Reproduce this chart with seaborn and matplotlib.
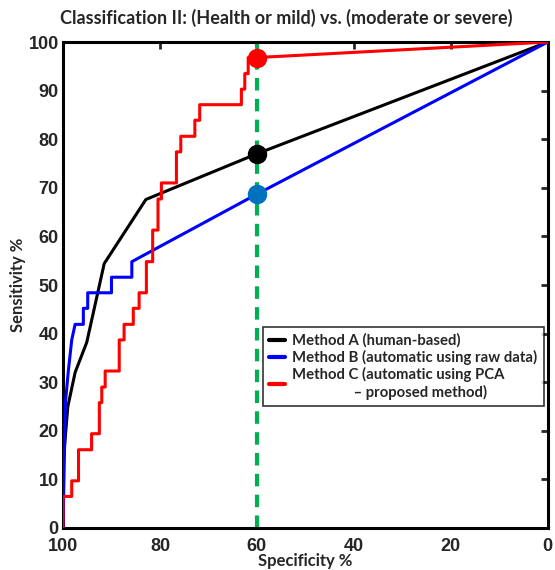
import numpy as np
import pandas as pd
import matplotlib
matplotlib.use("Agg")
import matplotlib.pyplot as plt
import seaborn as sns

# ---------------- data (specificity %, sensitivity %) ----------------
black_spec = [100, 100, 99.5, 99.0, 97.5, 95.1, 91.5, 82.9, 60, 0]
black_sens = [0, 13, 19, 25, 32, 38.2, 54.4, 67.6, 77.0, 100]

blue_spec = [100, 99.5, 98.9, 98.2, 97.5, 95.8, 95.8, 94.9, 94.9, 90.0, 90.0,
             85.8, 85.8, 60, 0]
blue_sens = [0, 25.8, 32.3, 38.7, 41.9, 41.9, 45.2, 45.2, 48.4, 48.4, 51.6,
             51.6, 54.8, 68.7, 100]

# red staircase: spec where each horizontal run ends, sensitivity level of the run
red_step_spec = [98.2, 96.8, 94.1, 92.5, 92.0, 91.3, 88.4, 87.4, 85.5, 84.3,
                 82.8, 81.5, 80.4, 79.7, 76.6, 75.7, 72.8, 71.8, 63.2, 62.5,
                 61.8, 60.0]
red_step_sens = [6.5, 9.7, 16.1, 19.4, 25.8, 29.0, 32.3, 38.7, 41.9, 45.2,
                 48.4, 54.8, 61.3, 67.7, 71.0, 77.4, 80.6, 83.9, 87.1, 90.3,
                 93.5, 96.8]

# operating points at specificity 60 %
op_spec = [60, 60, 60]
op_sens = [96.8, 77.0, 68.7]
op_colors = ["#ff0000", "#000000", "#0072bd"]

labels = ["Method A (human-based)",
          "Method B (automatic using raw data)",
          "Method C (automatic using PCA\n                 \u2013 proposed method)"]

# expand the red staircase into corners, then straight line to (0, 100)
red_x, red_y = [100], [0]
for s, v in zip(red_step_spec, red_step_sens):
    red_x += [red_x[-1], s]
    red_y += [v, v]
red_x.append(0)
red_y.append(100)

df_a = pd.DataFrame({"spec": black_spec, "sens": black_sens})
df_b = pd.DataFrame({"spec": blue_spec, "sens": blue_sens})
df_c = pd.DataFrame({"spec": red_x, "sens": red_y})

# ---------------- plot ----------------
sns.set_style("white")
plt.rcParams["font.family"] = ["Lato", "DejaVu Sans"]
plt.rcParams["font.weight"] = "bold"

fig = plt.figure(figsize=(5.55, 5.70), dpi=100)
ax = fig.add_axes([0.1135, 0.0737, 0.8735, 0.8526])

ax.axvline(60, color="#00b050", lw=3, ls=(0, (3, 2)), zorder=1)

sns.lineplot(data=df_a, x="spec", y="sens", sort=False, estimator=None,
             color="black", lw=2.2, ax=ax, label=labels[0], zorder=3)
sns.lineplot(data=df_b, x="spec", y="sens", sort=False, estimator=None,
             color="#0000ff", lw=2.2, ax=ax, label=labels[1], zorder=3)
sns.lineplot(data=df_c, x="spec", y="sens", sort=False, estimator=None,
             color="#ff0000", lw=2.2, ax=ax, label=labels[2], zorder=3)

for sx, sy, c in zip(op_spec, op_sens, op_colors):
    ax.plot(sx, sy, "o", ms=13, color=c, zorder=5)

ax.set_xlim(100, 0)
ax.set_ylim(0, 100)
ax.set_xticks(np.arange(100, -1, -20))
ax.set_yticks(np.arange(0, 101, 10))
ax.tick_params(direction="in", length=5, width=2, top=True, right=True)
ax.tick_params(axis="x", pad=7)
ax.tick_params(axis="y", pad=3)
for lab in ax.get_xticklabels() + ax.get_yticklabels():
    lab.set_fontweight("bold")
    lab.set_fontsize(13)
    lab.set_family(["Liberation Sans", "DejaVu Sans"])
for sp in ax.spines.values():
    sp.set_linewidth(2.2)
    sp.set_color("black")

ax.set_xlabel("Specificity %", fontsize=12, fontweight="bold", labelpad=-1)
ax.set_ylabel("Sensitivity %", fontsize=12, fontweight="bold", labelpad=2)
ax.set_title("Classification II: (Health or mild) vs. (moderate or severe)",
             fontsize=13, fontweight="bold", pad=13, x=0.46)

leg = ax.legend(loc="upper left", bbox_to_anchor=(0.412, 0.413), fancybox=False,
                frameon=True, edgecolor="black", fontsize=10.7,
                handlelength=1.1, handletextpad=0.5, borderpad=0.4,
                labelspacing=0.15, borderaxespad=0)
leg.get_frame().set_linewidth(1.2)
for t in leg.get_texts():
    t.set_fontweight("bold")
for h in leg.get_lines():
    h.set_linewidth(3)

fig.savefig("out.png", dpi=100)
